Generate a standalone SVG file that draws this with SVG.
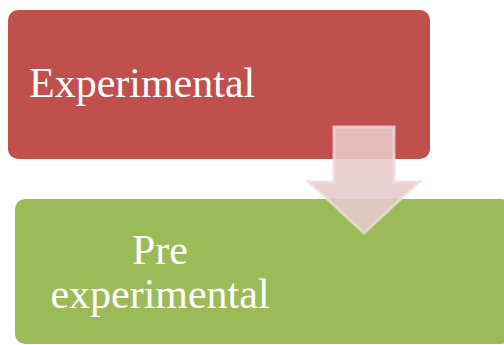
<svg xmlns="http://www.w3.org/2000/svg" width="504" height="345" viewBox="0 0 504 345">
<style>
.lbl{font-family:"Liberation Serif","Times New Roman",serif;font-size:42px;fill:#ffffff}
</style>
<rect width="504" height="345" fill="#ffffff"/>
<g id="node-experimental">
<rect x="8" y="10" width="422" height="149" rx="10" fill="#C0504D"/>
<text class="lbl" x="29" y="97">Experimental</text>
</g>
<g id="node-pre-experimental">
<rect x="15" y="199" width="496" height="145" rx="10" fill="#9BBB59"/>
<text class="lbl" x="160" y="264" text-anchor="middle">Pre</text>
<text class="lbl" x="160" y="308" text-anchor="middle">experimental</text>
</g>
<g id="connectors">
<path d="M334,127 L394,127 L394,182 L419,182 L364,233 L309,182 L334,182 Z" fill="#E6CACA" fill-opacity="0.88" stroke="#EEDCDB" stroke-opacity="0.8" stroke-width="3" stroke-linejoin="miter"/>
</g>
</svg>
